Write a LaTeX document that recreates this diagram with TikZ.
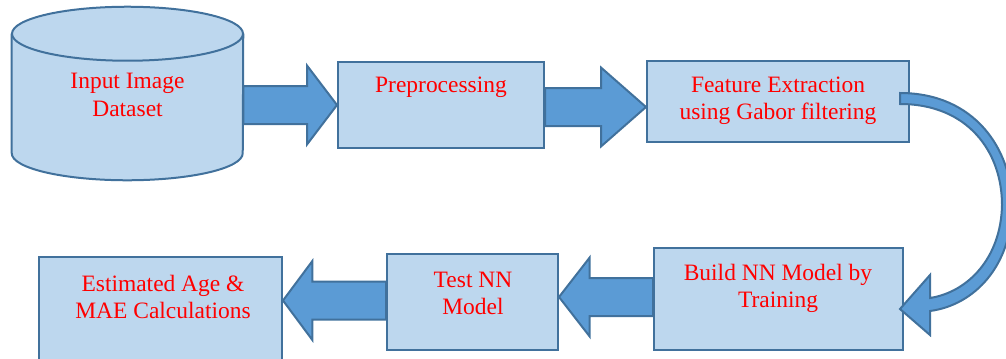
\documentclass[tikz,border=0pt]{standalone}
\usepackage{fontspec}
\setmainfont{Liberation Serif}
\usetikzlibrary{calc}

\definecolor{boxfill}{HTML}{BDD7EE}
\definecolor{boxline}{HTML}{41719C}
\definecolor{arrowfill}{HTML}{5B9BD5}

\tikzset{
  box/.style={draw=boxline, fill=boxfill, line width=1.5pt, inner sep=0pt},
  txt/.style={text=red, align=center, inner sep=0pt, font=\fontsize{17.6}{20.6}\selectfont},
  fatarrow/.style={draw=boxline, fill=arrowfill, line width=1.5pt, line join=miter},
}

% block arrow: (start), (tip), head length
\newcommand{\blockarrow}[3]{%
  \path (#1) coordinate (fa-s) (#2) coordinate (fa-t)
        ($(fa-t)!#3!(fa-s)$) coordinate (fa-b);
  \filldraw[fatarrow] ($(fa-s)!14.25pt!90:(fa-t)$) -- ($(fa-b)!14.25pt!-90:(fa-s)$)
    -- ($(fa-b)!29.6pt!-90:(fa-s)$) -- (fa-t) -- ($(fa-b)!29.6pt!90:(fa-s)$)
    -- ($(fa-b)!14.25pt!90:(fa-s)$) -- ($(fa-s)!14.25pt!-90:(fa-t)$) -- cycle;}

\begin{document}
\begin{tikzpicture}[x=0.75pt, y=0.75pt]
  %%%%% START %%%%%
  \useasboundingbox (0,0) rectangle (1006,-358);

  % database cylinder
  \node[minimum width=173.25pt, minimum height=129.75pt, inner sep=0pt] (inp) at (127.5,-93.5) {};
  \fill[boxfill] (inp.north west) ++(0,-27) -- ($(inp.south west)+(0,27)$)
    arc[start angle=180, end angle=360, x radius=115.5, y radius=27] -- ($(inp.north east)+(0,-27)$) -- cycle;
  \draw[boxline, line width=1.5pt] (inp.north west) ++(0,-27) -- ($(inp.south west)+(0,27)$)
    arc[start angle=180, end angle=360, x radius=115.5, y radius=27] -- ($(inp.north east)+(0,-27)$);
  \filldraw[box] ($(inp.north)+(0,-27)$) ellipse[x radius=115.5, y radius=27];

  % process boxes
  \node[box, minimum width=154.5pt, minimum height=64.5pt] (pre) at (441,-105) {};
  \node[box, minimum width=196.5pt, minimum height=60.75pt] (feat) at (778,-101.5) {};
  \node[box, minimum width=186.75pt, minimum height=76.5pt] (build) at (778.5,-299) {};
  \node[box, minimum width=128.25pt, minimum height=72pt] (test) at (472.5,-302) {};
  \node[box, minimum width=182.25pt, minimum height=81pt] (est) at (160.5,-311) {};

  % straight block arrows
  \blockarrow{inp.east |- 0,-105}{pre.west |- 0,-105}{22.5pt}
  \blockarrow{pre.east |- 0,-107}{feat.west |- 0,-107}{33.75pt}
  \blockarrow{build.west |- 0,-297}{test.east |- 0,-297}{23pt}
  \blockarrow{test.west |- 0,-300.5}{est.east |- 0,-300.5}{22pt}

  % curved arrow feature -> build
  \coordinate (bend-o) at ($(feat.east)+(-10,8.5)$);
  \coordinate (bend-i) at ($(feat.east)+(-10,-2.5)$);
  \coordinate (bend-tip) at ($(build.east)+(-4,-10)$);
  \filldraw[fatarrow] (bend-o) .. controls (975,-93) and (1012,-150) .. (1012,-205)
    .. controls (1012,-265) and (975,-305) .. (930,-311)
    -- (930,-335) -- (bend-tip) -- (930,-275) -- (930,-298)
    .. controls (968,-292) and (1001,-258) .. (1002,-205)
    .. controls (1002,-152) and (968,-104) .. (bend-i) -- cycle;

  % labels
  \node[txt] (inp-t) at (127.5,-95) {Input Image\\Dataset};
  \node[txt] (pre-t) at (441,-87) {Preprocessing};
  \node[txt] (feat-t) at (778,-101) {Feature Extraction\\using Gabor filtering};
  \node[txt] (build-t) at (778,-288.5) {Build NN Model by\\Training};
  \node[txt] (test-t) at (473,-293.5) {Test NN\\Model};
  \node[txt] (est-t) at (163,-297) {Estimated Age \&\\MAE Calculations};
  %%%%% END %%%%%
\end{tikzpicture}
\end{document}
